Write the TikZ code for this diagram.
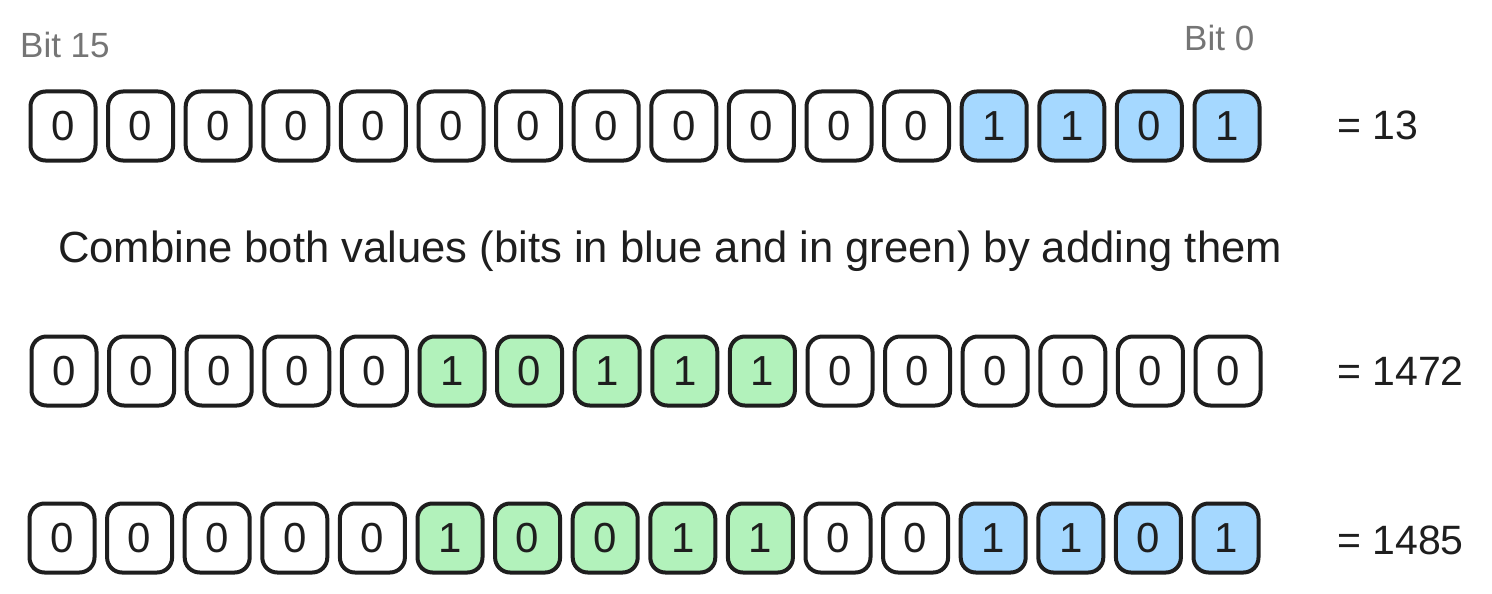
\documentclass[tikz,border=0pt]{standalone}
\usepackage{fontspec}
\setmainfont{Liberation Sans}
\definecolor{ink}{HTML}{1E1E1E}
\definecolor{bluef}{HTML}{A5D8FF}
\definecolor{greenf}{HTML}{B2F2BB}
\definecolor{graytxt}{HTML}{757575}
\begin{document}
\begin{tikzpicture}[x=1pt,y=-1pt,
  bitbox/.style={draw=ink, line width=4pt, rounded corners=15pt,
    minimum width=65pt, minimum height=69pt, inner sep=0pt,
    font=\fontsize{42}{42}\selectfont, text=ink},
  wh/.style={bitbox, fill=white},
  bl/.style={bitbox, fill=bluef},
  gr/.style={bitbox, fill=greenf},
  bitlabel/.style={font=\fontsize{35}{35}\selectfont, text=graytxt, inner sep=0pt, anchor=west},
  caption/.style={font=\fontsize{43.6}{43.6}\selectfont, text=ink, inner sep=0pt, anchor=west},
  result/.style={font=\fontsize{41}{41}\selectfont, text=ink, inner sep=0pt, anchor=west}]
\useasboundingbox[fill=white] (0,0) rectangle (1492,594);

% Row 1: 13
\foreach \v/\s [count=\i from 0] in {0/wh,0/wh,0/wh,0/wh,0/wh,0/wh,0/wh,0/wh,0/wh,0/wh,0/wh,0/wh,1/bl,1/bl,0/bl,1/bl}
  \node[\s] (a\i) at (63+77.6*\i,126) {\v};

% Row 2: 1472
\foreach \v/\s [count=\i from 0] in {0/wh,0/wh,0/wh,0/wh,0/wh,1/gr,0/gr,1/gr,1/gr,1/gr,0/wh,0/wh,0/wh,0/wh,0/wh,0/wh}
  \node[\s] (b\i) at (64+77.6*\i,371) {\v};

% Row 3: 1485
\foreach \v/\s [count=\i from 0] in {0/wh,0/wh,0/wh,0/wh,0/wh,1/gr,0/gr,0/gr,1/gr,1/gr,0/wh,0/wh,1/bl,1/bl,0/bl,1/bl}
  \node[\s] (c\i) at (62+77.6*\i,538) {\v};

\node[bitlabel] (bit15) at (20,45) {Bit 15};
\node[bitlabel] (bit0) at (1184,38) {Bit 0};

\node[caption] (cap) at (58,251) {Combine both values (bits in blue and in green) by adding them};

\node[result] (r1) at (1337,125) {= 13};
\node[result] (r2) at (1337,371) {= 1472};
\node[result] (r3) at (1337,540) {= 1485};
\end{tikzpicture}
\end{document}
